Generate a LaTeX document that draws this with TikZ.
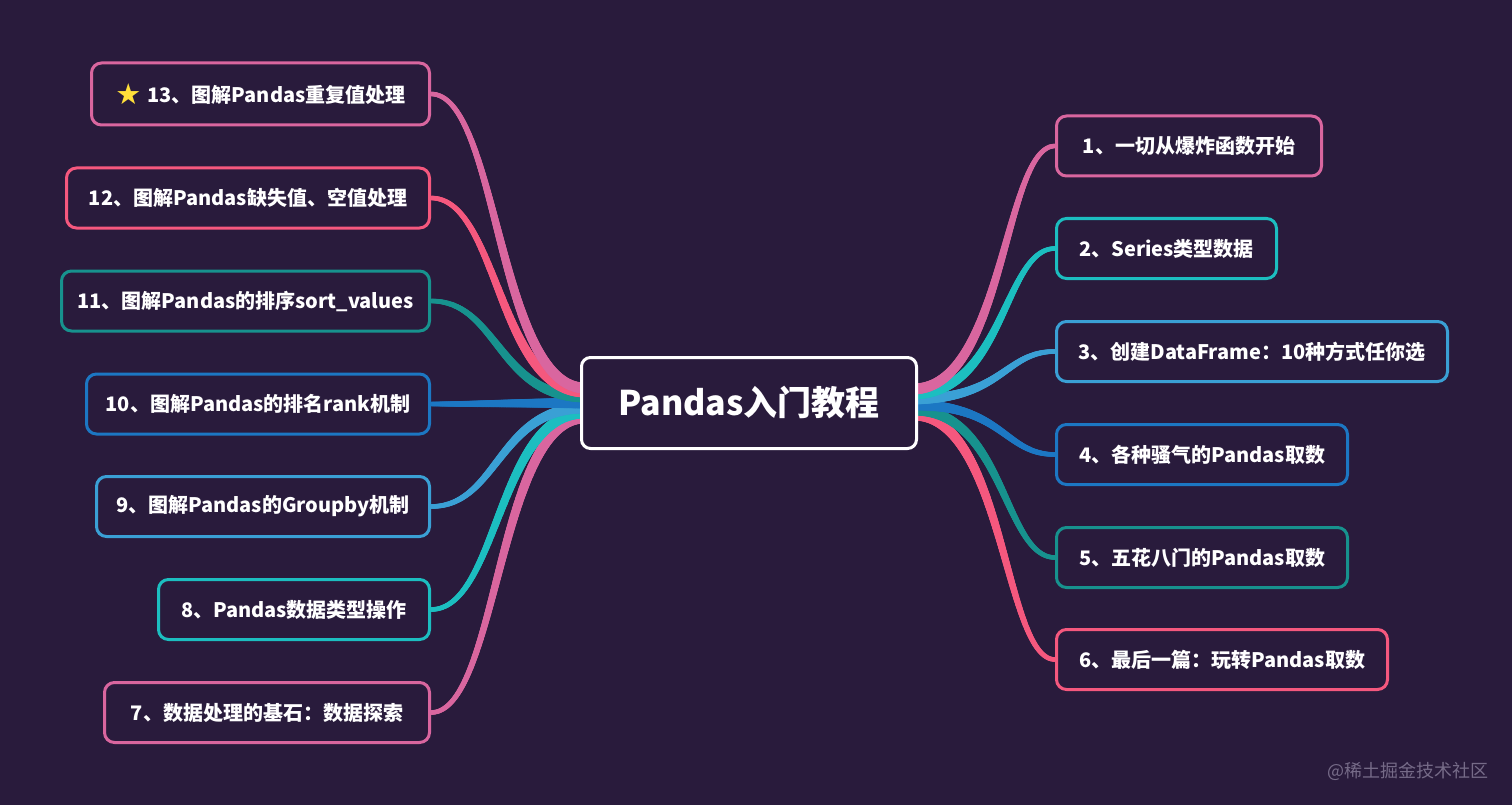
\documentclass[tikz,border=0pt]{standalone}
\usepackage{fontspec}
\setmainfont{Noto Sans CJK SC}
\newfontfamily\symfont{DejaVu Sans}
\usetikzlibrary{decorations.markings,calc}
\definecolor{bgc}{HTML}{291B3C}
\definecolor{mpink}{HTML}{D9669F}
\definecolor{mred}{HTML}{F5587E}
\definecolor{mteal}{HTML}{17928E}
\definecolor{mblue}{HTML}{1C77C3}
\definecolor{mlblue}{HTML}{3AA0D5}
\definecolor{mcyan}{HTML}{1CBEC0}
\definecolor{starc}{HTML}{FFDF3A}
\definecolor{wmark}{HTML}{766B88}
\pgfdeclarelayer{bg}
\pgfsetlayers{bg,main}
\newcommand\mmbranch[4]{\path[decorate,decoration={markings,mark=between positions 0 and 1 step 0.7pt with {\pgfmathsetmacro\mmr{2.3+3.2*(1-\pgfkeysvalueof{/pgf/decoration/mark info/distance from start}/\pgfdecoratedpathlength)}\fill[#1] (0pt,0pt) circle[radius=\mmr pt];}}] (#2) .. controls (#2 -| #4) and (#3 -| #4) .. (#3);}
\tikzset{
  box/.style={draw=#1, line width=3pt, rounded corners=10pt, fill=bgc, text=white,
    font=\bfseries\fontsize{20}{24}\selectfont, minimum height=60pt, inner sep=0pt},
  centerbox/.style={draw=white, line width=3pt, rounded corners=9pt, fill=bgc, text=white,
    font=\bfseries\fontsize{34}{40}\selectfont, minimum width=335pt, minimum height=91pt, inner sep=0pt},
  wm/.style={text=wmark, font=\fontsize{18}{22}\selectfont, inner sep=0pt}
}
\begin{document}
\begin{tikzpicture}[x=1pt,y=-1pt]
\begin{pgfonlayer}{bg}
\fill[bgc] (0,0) rectangle (1512,805);
\end{pgfonlayer}
\useasboundingbox (0,0) rectangle (1512,805);
% center
\node[centerbox] (c) at (749,403) {Pandas入门教程};
% right
\node[box=mpink, minimum width=265pt] (r1) at (1189,146) {1、一切从爆炸函数开始};
\node[box=mcyan, minimum width=220pt] (r2) at (1166.5,248.5) {2、Series类型数据};
\node[box=mlblue, minimum width=391pt] (r3) at (1252,351.5) {3、创建DataFrame：10种方式任你选};
\node[box=mblue, minimum width=291pt] (r4) at (1202,454.5) {4、各种骚气的Pandas取数};
\node[box=mteal, minimum width=291pt] (r5) at (1202,557.5) {5、五花八门的Pandas取数};
\node[box=mred, minimum width=331pt] (r6) at (1222,659.5) {6、最后一篇：玩转Pandas取数};
% left
\node[box=mpink, minimum width=338pt, minimum height=62pt] (l13) at (260.5,94) {\raisebox{-1.5pt}{\symfont\fontsize{29}{29}\selectfont\color{starc}★}\hspace{6pt}13、图解Pandas重复值处理};
\node[box=mred, minimum width=363pt] (l12) at (248,198) {12、图解Pandas缺失值、空值处理};
\node[box=mteal, minimum width=368pt] (l11) at (245.5,301) {11、图解Pandas的排序sort\_values};
\node[box=mblue, minimum width=343pt] (l10) at (258,404) {10、图解Pandas的排名rank机制};
\node[box=mlblue, minimum width=333pt] (l9) at (263,506.5) {9、图解Pandas的Groupby机制};
\node[box=mcyan, minimum width=271pt] (l8) at (294,609.5) {8、Pandas数据类型操作};
\node[box=mpink, minimum width=325pt] (l7) at (267,712.5) {7、数据处理的基石：数据探索};
% watermark
\node[wm] (wmk) at (1408,771) {@稀土掘金技术社区};
% branch helper coordinates
\coordinate (rx) at (1004,0);
\coordinate (lx) at (498,0);
\coordinate (sR1) at (913,389);
\coordinate (sR2) at (913,394);
\coordinate (sR3) at (913,399);
\coordinate (sR4) at (913,405);
\coordinate (sR5) at (913,410);
\coordinate (sR6) at (913,415);
\coordinate (sL13) at (585,388);
\coordinate (sL12) at (585,392);
\coordinate (sL11) at (585,397);
\coordinate (sL10) at (585,403);
\coordinate (sL9) at (585,408);
\coordinate (sL8) at (585,413);
\coordinate (sL7) at (585,418);
\begin{pgfonlayer}{bg}
\mmbranch{mred}{sR6}{r6.west}{rx}
\mmbranch{mteal}{sR5}{r5.west}{rx}
\mmbranch{mblue}{sR4}{r4.west}{rx}
\mmbranch{mlblue}{sR3}{r3.west}{rx}
\mmbranch{mcyan}{sR2}{r2.west}{rx}
\mmbranch{mpink}{sR1}{r1.west}{rx}
\mmbranch{mpink}{sL7}{l7.east}{lx}
\mmbranch{mcyan}{sL8}{l8.east}{lx}
\mmbranch{mlblue}{sL9}{l9.east}{lx}
\mmbranch{mblue}{sL10}{l10.east}{lx}
\mmbranch{mteal}{sL11}{l11.east}{lx}
\mmbranch{mred}{sL12}{l12.east}{lx}
\mmbranch{mpink}{sL13}{l13.east}{lx}
\end{pgfonlayer}
\end{tikzpicture}
\end{document}
